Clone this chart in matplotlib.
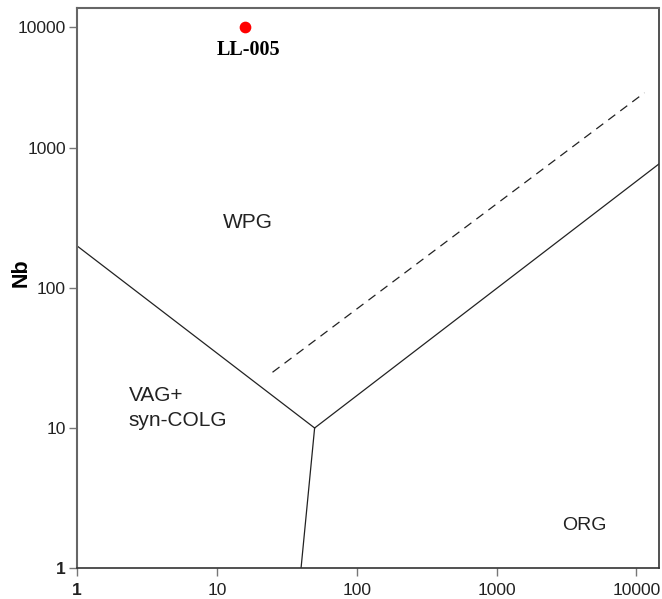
import matplotlib
matplotlib.use("Agg")
import matplotlib.pyplot as plt

# Pearce et al. (1984) Nb-Y discrimination boundaries
y_left = [1, 50]          # VAG+syn-COLG / WPG
nb_left = [200, 10]
y_bottom = [50, 40]       # VAG+syn-COLG / ORG
nb_bottom = [10, 1]
y_right = [50, 14500]     # WPG / ORG
nb_right = [10, 770]
y_dash = [25, 11400]      # ORG-WPG dashed boundary
nb_dash = [25, 2480]

# sample
sample_y = [16]
sample_nb = [7300]
sample_name = "LL-005"

ytick_vals = [1, 10, 100, 1000, 7300]
ytick_labels = ["1", "10", "100", "1000", "10000"]
xtick_vals = [1, 10, 100, 1000, 10000]
xtick_labels = ["1", "10", "100", "1000", "10000"]

plt.rcParams['font.family'] = ['Liberation Sans', 'DejaVu Sans']

fig = plt.figure(figsize=(6.62, 5.99), dpi=100)
ax = fig.add_axes([0.1163, 0.0518, 0.8792, 0.9348])
ax.set_xscale("log")
ax.set_yscale("log")
ax.set_xlim(1, 14500)
ax.set_ylim(1, 10000)

lw = 0.9
ax.plot(y_left, nb_left, color="#222222", lw=lw)
ax.plot(y_bottom, nb_bottom, color="#222222", lw=lw)
ax.plot(y_right, nb_right, color="#222222", lw=lw)
ax.plot(y_dash, nb_dash, color="#222222", lw=lw, dashes=(7, 5))

ax.scatter(sample_y, sample_nb, s=55, color="#ff0000", zorder=5)
ax.annotate(sample_name, (sample_y[0], sample_nb[0]), xytext=(2, -16.5),
            textcoords="offset points", ha="center", va="center",
            fontsize=14.4, fontweight="bold", family="Liberation Serif")

# field labels
ax.text(16.6, 296, "WPG", fontsize=15, ha="center", va="center", color="#222222")
ax.text(2.35, 13.9, "VAG+\nsyn-COLG", fontsize=15, ha="left", va="center",
        color="#222222", linespacing=1.45)
ax.text(4250, 2.0, "ORG", fontsize=14, ha="center", va="center", color="#222222")

ax.set_xticks(xtick_vals)
ax.set_xticklabels(xtick_labels)
ax.set_yticks(ytick_vals)
ax.set_yticklabels(ytick_labels)
ax.minorticks_off()
ax.tick_params(axis="both", direction="out", length=6, width=1, color="#777777",
               labelsize=12.6, labelcolor="#222222")
ax.tick_params(axis="x", pad=4.5)
ax.tick_params(axis="y", pad=2)
ax.get_xticklabels()[0].set_fontweight("bold")
ax.get_yticklabels()[0].set_fontweight("bold")

ax.set_ylabel("Nb", fontsize=15.5, fontweight="bold", va="center")
ax.yaxis.set_label_coords(-0.096, 0.528)

for side in ["left", "top"]:
    ax.spines[side].set_color("#666666")
    ax.spines[side].set_linewidth(1.5)
for side in ["bottom", "right"]:
    ax.spines[side].set_color("#333333")
    ax.spines[side].set_linewidth(1.2)

fig.savefig("out.png", dpi=100)
